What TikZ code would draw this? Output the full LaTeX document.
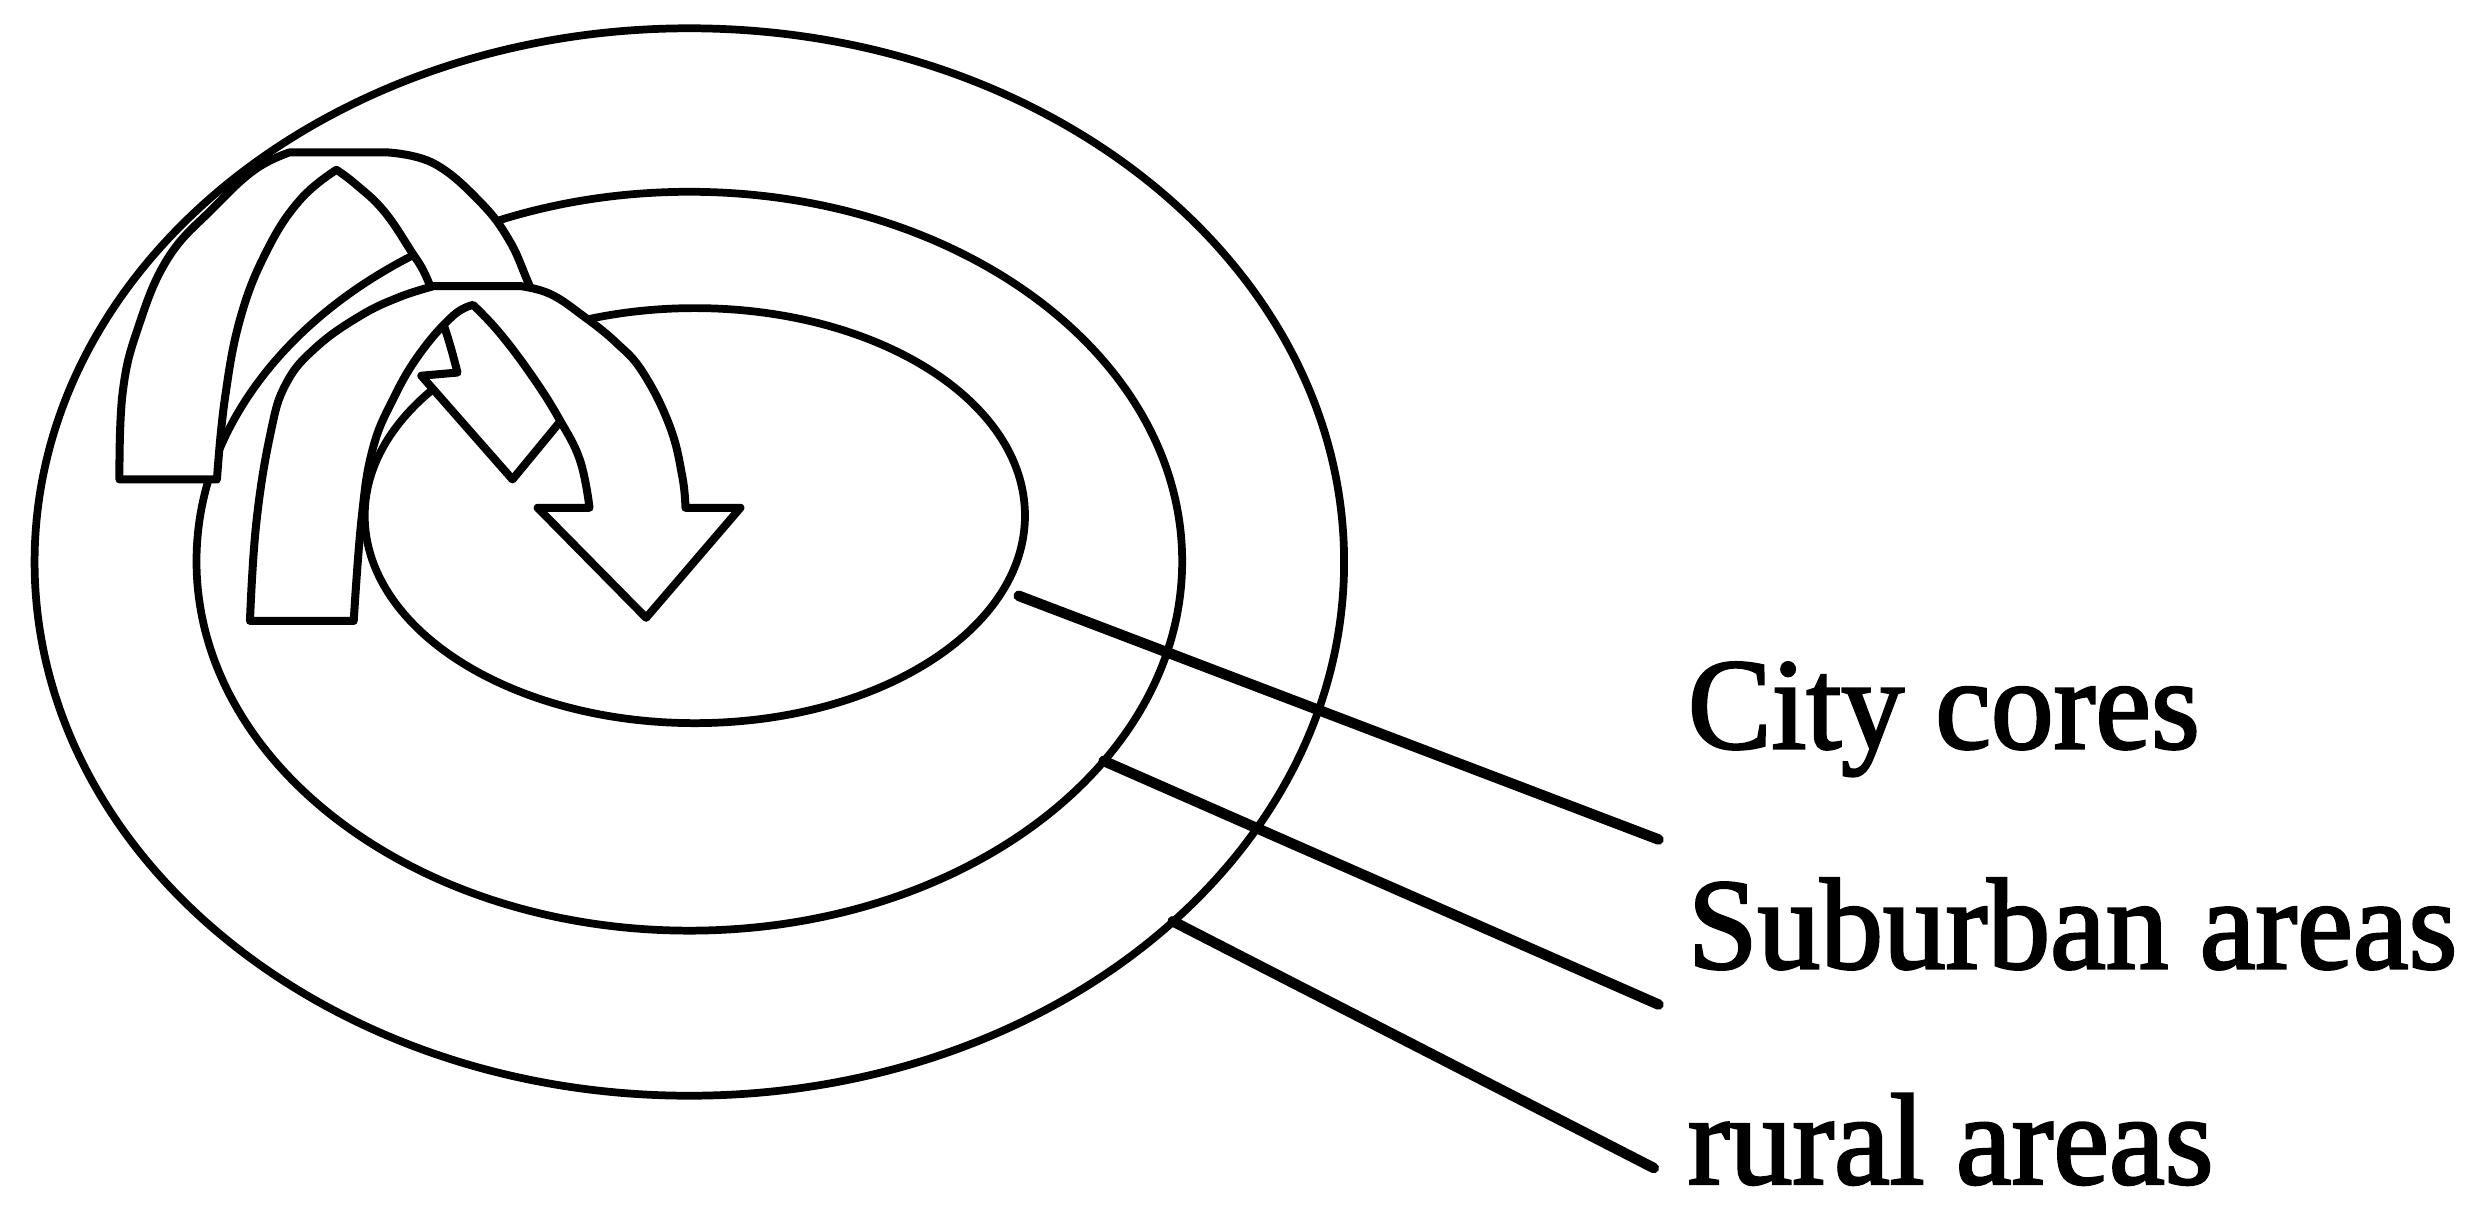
\documentclass[tikz,border=0pt]{standalone}
\usepackage{fontspec}
\setmainfont{Liberation Serif}[FakeStretch=0.965,FakeBold=2]
\begin{document}
\begin{tikzpicture}[x=0.01cm,y=-0.01cm,
  ring/.style={draw=black,line width=1.4pt},
  arrowband/.style={draw=black,fill=white,line width=1.45pt,line join=round},
  leader/.style={draw=black,line width=1.9pt,line cap=round},
  label/.style={anchor=base west,inner sep=0pt,font=\fontsize{23.5pt}{28pt}\selectfont}]
\useasboundingbox (0,0) rectangle (1568,770);
% centres of the three rings
\coordinate (cOuter) at (438.5,357.5);
\coordinate (cMid) at (438.5,357);
\coordinate (cIn) at (442,328);
\draw[ring] (cOuter) ellipse [x radius=416.5,y radius=339.5];
\draw[ring] (cMid) ellipse [x radius=313.5,y radius=235];
\draw[ring] (cIn) ellipse [x radius=210,y radius=132];
% back curved arrow (rural -> suburban)
\filldraw[arrowband] (76,305)
  -- plot[smooth,tension=0.7] coordinates {(76,305) (78,250) (88,208) (107,164) (136,132) (162,108) (184,97)}
  -- (247,97)
  -- plot[smooth,tension=0.7] coordinates {(247,97) (276,104) (305,128) (324,153) (337,182) (350,210) (360,237)}
  -- (382,237) -- (326,305) -- (268,239) -- (291,237)
  -- plot[smooth,tension=0.7] coordinates {(291,237) (284,212) (272,178) (261,159) (244,134) (226,117) (214,108)}
  -- plot[smooth,tension=0.7] coordinates {(214,108) (191,127) (170,159) (153,202) (143,254) (138,305)}
  -- cycle;
% front curved arrow (suburban -> city core)
\filldraw[arrowband] (159,395)
  -- plot[smooth,tension=0.7] coordinates {(159,395) (163,333) (172,276) (182,244) (201,221) (229,201) (254,189) (276,182)}
  -- (331,182)
  -- plot[smooth,tension=0.7] coordinates {(331,182) (350,187) (371,201) (392,218) (409,237) (426,271) (434,303) (436,323)}
  -- (471,323) -- (411,393) -- (342,323) -- (375,323)
  -- plot[smooth,tension=0.7] coordinates {(375,323) (369,293) (356,267) (339,240) (318,212) (301,194)}
  -- plot[smooth,tension=0.7] coordinates {(301,194) (288,201) (267,225) (250,254) (237,286) (230,330) (225,395)}
  -- cycle;
% labels
\node[label] (city) at (1073,476) {City cores};
\node[label] (sub) at (1073,616) {Suburban areas};
\node[label] (rural) at (1073,753) {rural areas};
% leader lines
\coordinate (cityStart) at (648,379);
\coordinate (cityEnd) at (1055,534);
\coordinate (subStart) at (702,484);
\coordinate (subEnd) at (1055,639);
\coordinate (ruralStart) at (746,586);
\coordinate (ruralEnd) at (1052,743);
\draw[leader] (cityStart) -- (cityEnd);
\draw[leader] (subStart) -- (subEnd);
\draw[leader] (ruralStart) -- (ruralEnd);
\end{tikzpicture}
\end{document}
